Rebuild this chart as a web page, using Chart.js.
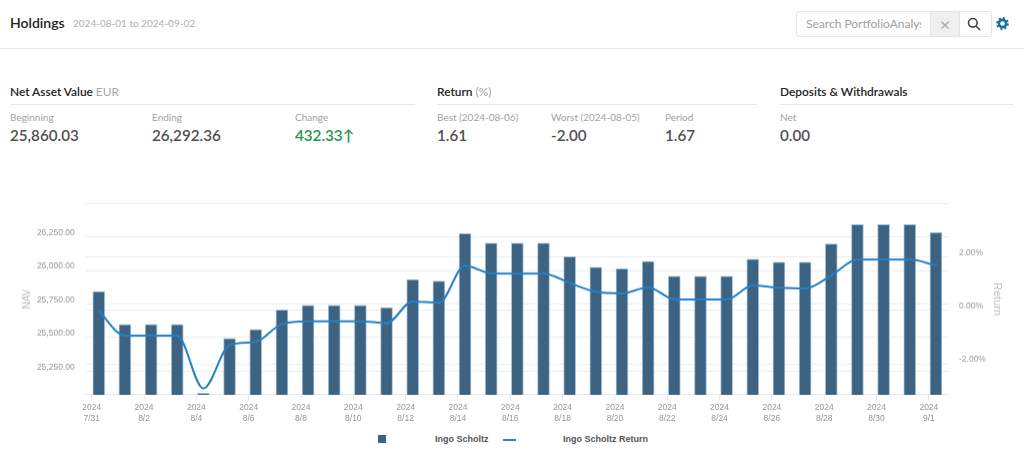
<!DOCTYPE html>
<html>
<head>
<meta charset="utf-8">
<title>Holdings</title>
<script src="https://cdn.jsdelivr.net/npm/chart.js@4"></script>
<style>
  html, body { margin: 0; padding: 0; background: #fff; }
  body { width: 1024px; height: 465px; position: relative; overflow: hidden; font-family: Lato, "Open Sans", sans-serif; }
  .t { position: absolute; white-space: nowrap; line-height: 1; }
  .rule { position: absolute; height: 1px; background: #e6e7e9; }
  .head { font-size: 11.9px; font-weight: 600; color: #222; }
  .head span { font-weight: 400; color: #a5a5a5; }
  .lab { font-size: 10px; color: #a2a2a2; }
  .val { font-size: 15.2px; font-weight: 600; color: #505050; }
  #search { position: absolute; left: 796px; top: 11px; width: 194px; height: 24px; border: 1px solid #e4e4e4; border-radius: 3px; }
  #search .txt { position: absolute; left: 9px; top: 6px; width: 115px; overflow: hidden; font-size: 12px; color: #a0a0a0; white-space: nowrap; line-height: 1; }
  #search .clr { position: absolute; left: 133px; top: 0; width: 28px; height: 24px; background: #efefef; border-left: 1px solid #e4e4e4; border-right: 1px solid #e4e4e4; color: #aaa; font-size: 18px; line-height: 24px; text-align: center; }
  #wrap { position: absolute; left: 0; top: 187.3px; width: 1024px; height: 242.7px; }
  .leg { position: absolute; font: bold 9px "Liberation Sans", sans-serif; color: #555; top: 435px; line-height: 9px; white-space: nowrap; }
  .key-bar { position: absolute; left: 378px; top: 435px; width: 8px; height: 8px; background: #3c6382; }
  .key-line { position: absolute; left: 503px; top: 439px; width: 13px; height: 2px; background: #2580c6; }
</style>
</head>
<body>
<div class="t" style="left:10px;top:16px;font-size:14px;font-weight:600;color:#222">Holdings</div>
<div class="t" style="left:73px;top:18px;font-size:10px;color:#b0b0b0">2024-08-01 to 2024-09-02</div>
<div id="search">
  <div class="txt">Search PortfolioAnalyst</div>
  <div class="clr">&#215;</div>
  <svg style="position:absolute;left:170px;top:5px" width="14" height="14" viewBox="0 0 14 14" fill="none" stroke="#444" stroke-width="1.6"><circle cx="5.8" cy="5.8" r="4.3"/><path d="M9 9l4 4"/></svg>
</div>
<svg style="position:absolute;left:996px;top:17px" width="13" height="13" viewBox="0 0 13 13"><circle cx="6.5" cy="6.5" r="3.6" fill="none" stroke="#1a6f9e" stroke-width="2.6"/><circle cx="6.5" cy="6.5" r="5.4" fill="none" stroke="#1a6f9e" stroke-width="2" stroke-dasharray="2.1 2.1"/></svg>
<div class="rule" style="left:0;top:48px;width:1024px"></div>

<div class="t head" style="left:10px;top:86px">Net Asset Value <span>EUR</span></div>
<div class="t head" style="left:437px;top:86px">Return <span>(%)</span></div>
<div class="t head" style="left:780px;top:86px">Deposits &amp; Withdrawals</div>
<div class="rule" style="left:10px;top:104px;width:405px"></div>
<div class="rule" style="left:437px;top:104px;width:320px"></div>
<div class="rule" style="left:780px;top:104px;width:234px"></div>

<div class="t lab" style="left:10px;top:112px">Beginning</div>
<div class="t lab" style="left:152px;top:112px">Ending</div>
<div class="t lab" style="left:295px;top:112px">Change</div>
<div class="t lab" style="left:437px;top:112px">Best (2024-08-06)</div>
<div class="t lab" style="left:551px;top:112px">Worst (2024-08-05)</div>
<div class="t lab" style="left:665px;top:112px">Period</div>
<div class="t lab" style="left:780px;top:112px">Net</div>

<div class="t val" style="left:10px;top:128px">25,860.03</div>
<div class="t val" style="left:152px;top:128px">26,292.36</div>
<div class="t val" style="left:295px;top:128px;color:#1f9650">432.33&#8593;</div>
<div class="t val" style="left:437px;top:128px">1.61</div>
<div class="t val" style="left:551px;top:128px">-2.00</div>
<div class="t val" style="left:665px;top:128px">1.67</div>
<div class="t val" style="left:780px;top:128px">0.00</div>

<div id="wrap"><canvas id="holdingsChart"></canvas></div>

<div class="key-bar"></div>
<div class="leg" style="left:435px">Ingo Scholtz</div>
<div class="key-line"></div>
<div class="leg" style="left:563px">Ingo Scholtz Return</div>

<script>
// Data
const categories = ["7/31","8/1","8/2","8/3","8/4","8/5","8/6","8/7","8/8","8/9","8/10","8/11","8/12","8/13","8/14","8/15","8/16","8/17","8/18","8/19","8/20","8/21","8/22","8/23","8/24","8/25","8/26","8/27","8/28","8/29","8/30","8/31","9/1"];
const tickYear = "2024";
const navValues = [25842,25599,25599,25599,25086,25494,25561,25706,25741,25741,25741,25724,25932,25922,26274,26204,26204,26204,26102,26024,26012,26067,25957,25957,25957,26084,26062,26062,26197,26342,26342,26342,26282];
const returnValues = [-0.03,-0.95,-0.95,-0.95,-2.92,-1.30,-1.18,-0.51,-0.41,-0.41,-0.41,-0.48,0.33,0.28,1.67,1.38,1.37,1.37,1.02,0.69,0.63,0.85,0.41,0.40,0.40,0.93,0.84,0.81,1.30,1.89,1.89,1.89,1.68];
const navTicks = [25250,25500,25750,26000,26250];
const returnTicks = [-2,0,2];

const tickFont = { family: "'Liberation Sans', sans-serif", size: 8.5 };
const tickColor = "#969696";
const gridColor = "#eaecef";
const titleColor = "#bdbdbd";

new Chart(document.getElementById("holdingsChart").getContext("2d"), {
  data: {
    labels: categories,
    datasets: [
      {
        type: "line",
        label: "Ingo Scholtz Return",
        data: returnValues,
        yAxisID: "yReturn",
        borderColor: "#2580c6",
        borderWidth: 2,
        pointRadius: 0,
        cubicInterpolationMode: "monotone",
        order: 1,
      },
      {
        type: "bar",
        label: "Ingo Scholtz",
        data: navValues,
        yAxisID: "yNav",
        backgroundColor: "#3c6382",
        borderColor: "#a9c3d8",
        borderWidth: 1,
        barThickness: 12,
        order: 2,
      },
    ],
  },
  options: {
    responsive: true,
    maintainAspectRatio: false,
    animation: false,
    layout: { padding: { top: 9.3 } },
    plugins: { legend: { display: false }, tooltip: { enabled: false } },
    scales: {
      // bars sit on this one, it is not shown
      x: { type: "category", display: false, grid: { display: false } },
      // the date ticks sit a little left of the bars in the original
      xDates: {
        type: "linear",
        axis: "x",
        position: "bottom",
        min: -0.23,
        max: 32.77,
        afterFit: (s) => { s.height = 35.7; },
        border: { color: "#e4ebf4" },
        grid: { drawOnChartArea: false, tickColor: "#e4ebf4", tickLength: 6 },
        ticks: {
          stepSize: 2,
          includeBounds: false,
          autoSkip: false,
          maxRotation: 0,
          padding: 2,
          font: tickFont,
          color: tickColor,
          callback: (v) => [tickYear, categories[v]],
        },
      },
      yNav: {
        position: "left",
        min: 25074,
        max: 26500,
        afterFit: (s) => { s.width = 85.7; },
        border: { display: false },
        grid: { color: gridColor, drawTicks: false },
        title: { display: true, text: "NAV", color: titleColor, font: { family: "'Liberation Sans', sans-serif", size: 10 }, padding: { top: 21, bottom: 0 } },
        ticks: {
          stepSize: 250,
          includeBounds: false,
          padding: 11,
          labelOffset: -4,
          font: tickFont,
          color: tickColor,
          callback: (v) => navTicks.includes(v) ? v.toLocaleString("en-US", { minimumFractionDigits: 2 }) : "",
        },
      },
      yReturn: {
        position: "right",
        min: -3.16,
        max: 4,
        afterFit: (s) => { s.width = 75; },
        border: { display: false },
        grid: { color: gridColor, drawTicks: false },
        title: { display: true, text: "Return", color: titleColor, font: { family: "'Liberation Sans', sans-serif", size: 11 }, padding: { top: 20, bottom: 0 } },
        ticks: {
          stepSize: 2,
          includeBounds: false,
          padding: 10,
          labelOffset: -4,
          font: tickFont,
          color: tickColor,
          callback: (v) => returnTicks.includes(v) ? v.toFixed(2) + "%" : "",
        },
      },
    },
  },
});
</script>
</body>
</html>
